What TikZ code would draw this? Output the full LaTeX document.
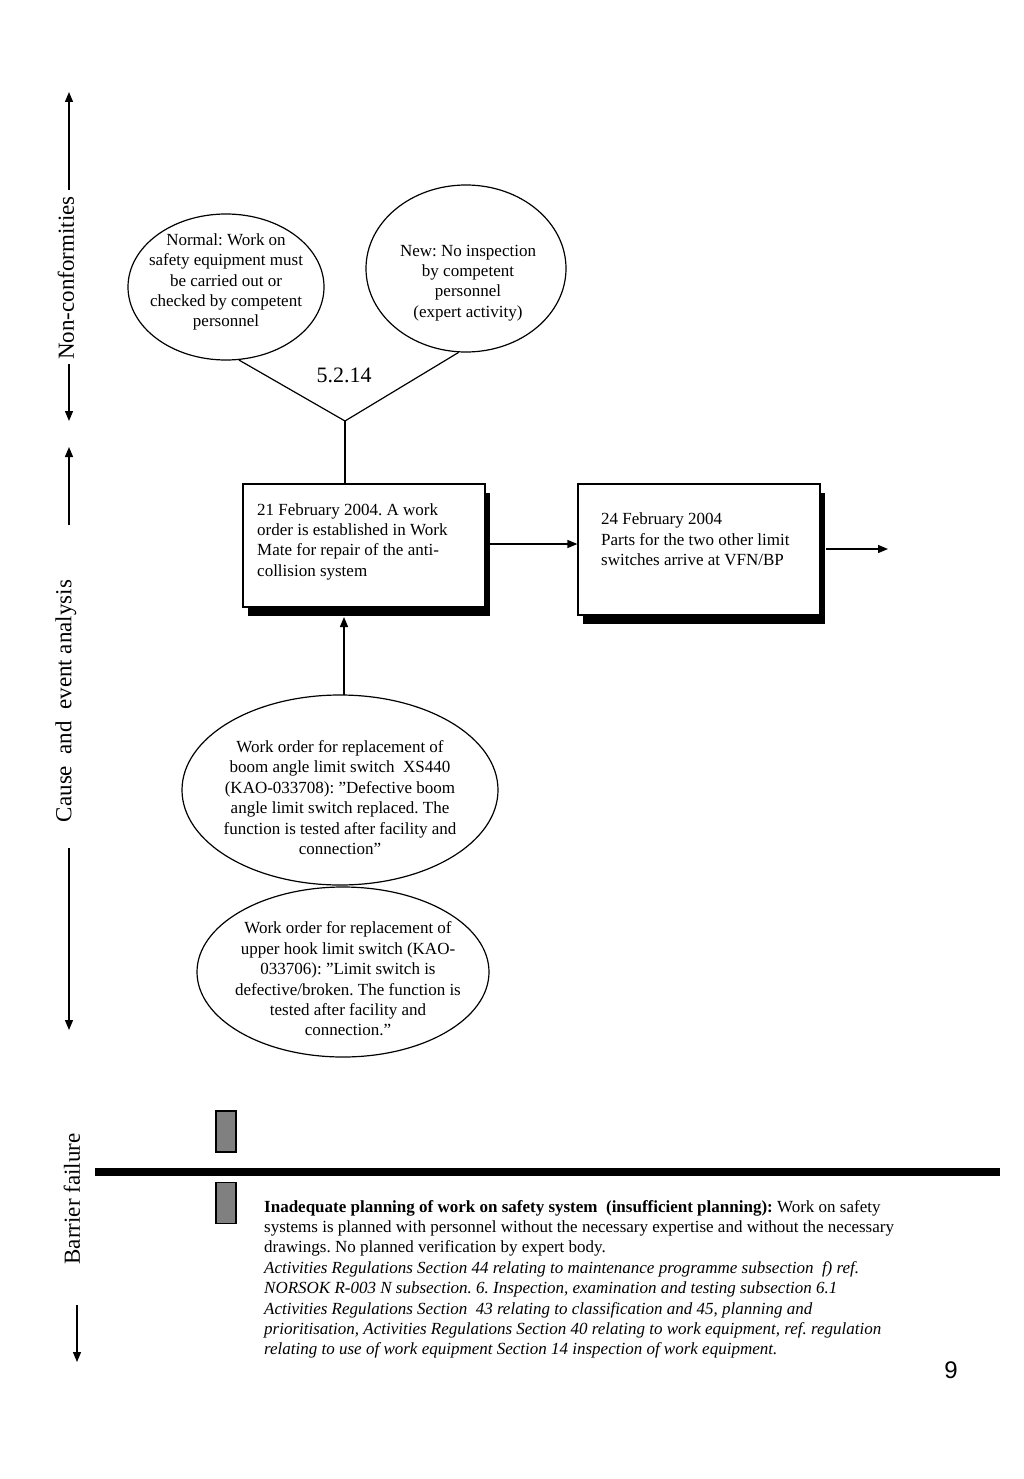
\documentclass[tikz,border=0pt]{standalone}
\usepackage{fontspec}
\setmainfont{Liberation Serif}
\newfontfamily\pagefont{Liberation Sans}
\usetikzlibrary{arrows.meta,shapes.geometric,shadows}
\frenchspacing
\begin{document}
\begin{tikzpicture}[x=1pt,y=-1pt,
  txt/.style={font=\fontsize{17}{20.4}\selectfont, inner sep=0pt, align=center},
  ltxt/.style={font=\fontsize{17}{20.4}\selectfont, inner sep=0pt, align=left, anchor=north west},
  ell/.style={draw, ellipse, line width=1.2pt, inner sep=0pt},
  conn/.style={line width=1.2pt},
  arr/.style={line width=1.3pt, -{Triangle[length=10pt,width=8pt]}},
  side/.style={font=\fontsize{23}{26}\selectfont, rotate=90, inner sep=0pt},
  evbox/.style={draw, line width=1.2pt, fill=white, inner sep=0pt,
    drop shadow={shadow xshift=5pt, shadow yshift=-9pt, fill=black, opacity=1}},
  gbar/.style={draw, line width=1.2pt, fill={rgb,255:red,128;green,128;blue,128}, inner sep=0pt, minimum width=20, minimum height=41},
]
\useasboundingbox (0,0) rectangle (1024,1479);

% ---- side labels with arrows ----
\node[side] (nc) at (66,278) {Non-conformities};
\coordinate (nctop) at (69,92);
\coordinate (ncbot) at (69,421);
\coordinate (ncu) at (69,190);
\coordinate (ncd) at (69,364);
\draw[arr] (ncu) -- (nctop);
\draw[arr] (ncd) -- (ncbot);

\node[side] (ce) at (66,701) {Cause\ \ and\ \ event analysis};
\coordinate (cetop) at (69,447);
\coordinate (cebot) at (69,1030);
\coordinate (ceu) at (69,525);
\coordinate (ced) at (69,848);
\draw[arr] (ceu) -- (cetop);
\draw[arr] (ced) -- (cebot);

\node[side] (bf) at (72,1199) {Barrier failure};
\coordinate (bfs) at (77,1305);
\coordinate (bfe) at (77,1362);
\draw[arr] (bfs) -- (bfe);

% ---- non-conformity ellipses ----
\node[ell, minimum width=196, minimum height=146] (e1) at (226,287) {};
\node[txt] (t1) at (226,282) {Normal: Work on\\safety equipment must\\be carried out or\\checked by competent\\personnel};

\node[ell, minimum width=200, minimum height=167] (e2) at (466,268.5) {};
\node[txt] (t2) at (468,283) {New: No inspection\\by competent\\personnel\\(expert activity)};

\coordinate (j) at (345,421);
\draw[conn] (e1.-80) -- (j);
\draw[conn] (e2.-95) -- (j);
\node[font=\fontsize{22}{26}\selectfont, inner sep=0pt] (num) at (344,375) {5.2.14};

% ---- event boxes ----
\node[evbox, minimum width=242, minimum height=123] (b1) at (364,545.5) {};
\node[ltxt] (b1t) at (257,503) {21 February 2004. A work\\order is established in Work\\Mate for repair of the anti-\\collision system};

\node[evbox, minimum width=242, minimum height=131] (b2) at (699,549.5) {};
\node[ltxt] (b2t) at (601,513) {24 February 2004\\Parts for the two other limit\\switches arrive at VFN/BP};

\draw[conn] (j) -- (j |- b1.north);
\coordinate (a1s) at (490,544);
\draw[arr] (a1s) -- (b2.west |- a1s);
\coordinate (a2s) at (826,549);
\coordinate (outend) at (888,549);
\draw[arr] (a2s) -- (outend);

% ---- cause ellipses ----
\node[ell, minimum width=316, minimum height=190] (e3) at (340,790) {};
\node[txt] (t3) at (340,797.5) {Work order for replacement of\\boom angle limit switch\ \ XS440\\(KAO-033708): ”Defective boom\\angle limit switch replaced. The\\function is tested after facility and\\connection”};

\node[ell, minimum width=292, minimum height=170] (e4) at (343,972) {};
\node[txt] (t4) at (348,979) {Work order for replacement of\\upper hook limit switch (KAO-\\033706): ”Limit switch is\\defective/broken. The function is\\tested after facility and\\connection.”};

\coordinate (up1) at (344,695);
\coordinate (up2) at (344,617);
\draw[arr] (up1) -- (up2);

% ---- barrier failure ----
\node[gbar] (g1) at (226,1131.5) {};
\node[gbar] (g2) at (226,1203) {};
\coordinate (hl) at (95,1172);
\coordinate (hr) at (1000,1172);
\draw[line width=8pt] (hl) -- (hr);

\node[ltxt] (bt) at (264,1200) {\textbf{Inadequate planning of work on safety system\ \ (insufficient planning):} Work on safety\\
systems is planned with personnel without the necessary expertise and without the necessary\\
drawings. No planned verification by expert body.\\
\textit{Activities Regulations Section 44 relating to maintenance programme subsection\ \ f) ref.}\\
\textit{NORSOK R-003 N subsection. 6. Inspection, examination and testing subsection 6.1}\\
\textit{Activities Regulations Section\ \ 43 relating to classification and 45, planning and}\\
\textit{prioritisation, Activities Regulations Section 40 relating to work equipment, ref. regulation}\\
\textit{relating to use of work equipment Section 14 inspection of work equipment.}};

\node[font=\pagefont\fontsize{24}{28}\selectfont, inner sep=0pt] (pg) at (951,1370) {9};
\end{tikzpicture}
\end{document}
